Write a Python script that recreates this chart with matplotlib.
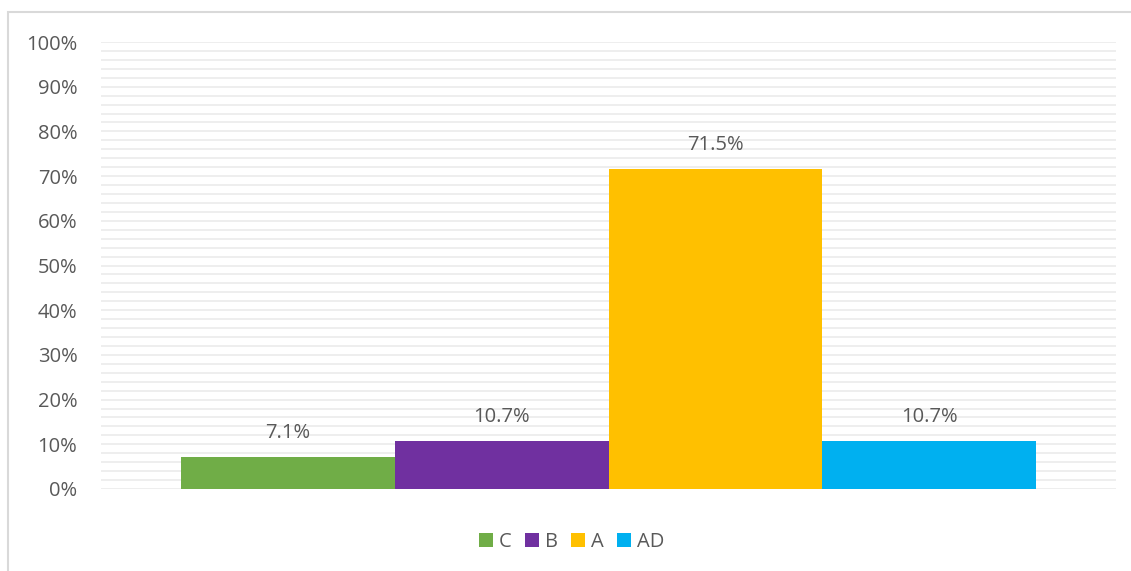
import numpy as np
import matplotlib
import matplotlib.pyplot as plt
from matplotlib.patches import Rectangle
from matplotlib.ticker import FuncFormatter, MultipleLocator

categories = ["C", "B", "A", "AD"]
values = [7.1, 10.7, 71.5, 10.7]
colors = ["#70ad47", "#7030a0", "#ffc000", "#00b0f0"]

matplotlib.rc("font", family="Open Sans", size=15)

fig = plt.figure(figsize=(11.31, 5.71), dpi=100)
ax = fig.add_axes([101 / 1131, 1 - 489 / 571, 1015 / 1131, 447 / 571])

# chart border (only top and left fall inside the picture)
fig.patches.append(Rectangle((8 / 1131, -0.1), 1.2, (571 - 12) / 571 + 0.1,
                             transform=fig.transFigure, fill=False,
                             edgecolor="#d9d9d9", linewidth=1.5))

w = 0.2106
offsets = (np.arange(len(categories)) - 1.5) * w
for off, v, c, lab in zip(offsets, values, colors, categories):
    ax.bar(off, v, width=w, color=c, label=lab, zorder=3)
    ax.text(off, v + 3.2, f"{v:.1f}%", ha="center", va="bottom",
            color="#595959", fontsize=14.5)

ax.set_xlim(-0.5, 0.5)
ax.set_ylim(0, 100)
ax.yaxis.set_major_locator(MultipleLocator(10))
ax.yaxis.set_minor_locator(MultipleLocator(2))
ax.yaxis.set_major_formatter(FuncFormatter(lambda y, p: f"{y:.0f}%"))
ax.grid(axis="y", which="both", color="#eeeeee", linewidth=1.4, zorder=0)
ax.set_xticks([])
ax.tick_params(axis="y", which="both", length=0, pad=17, labelcolor="#595959",
               labelsize=14.5)
for s in ax.spines.values():
    s.set_visible(False)

ax.legend(loc="center", bbox_to_anchor=(0.5 + 6 / 1131, 1 - 542 / 571),
          bbox_transform=fig.transFigure,
          ncol=4, frameon=False, handlelength=0.7, handleheight=0.7,
          handletextpad=0.3, columnspacing=0.65, labelcolor="#595959", fontsize=14.5)

plt.savefig("out.png", dpi=100)
